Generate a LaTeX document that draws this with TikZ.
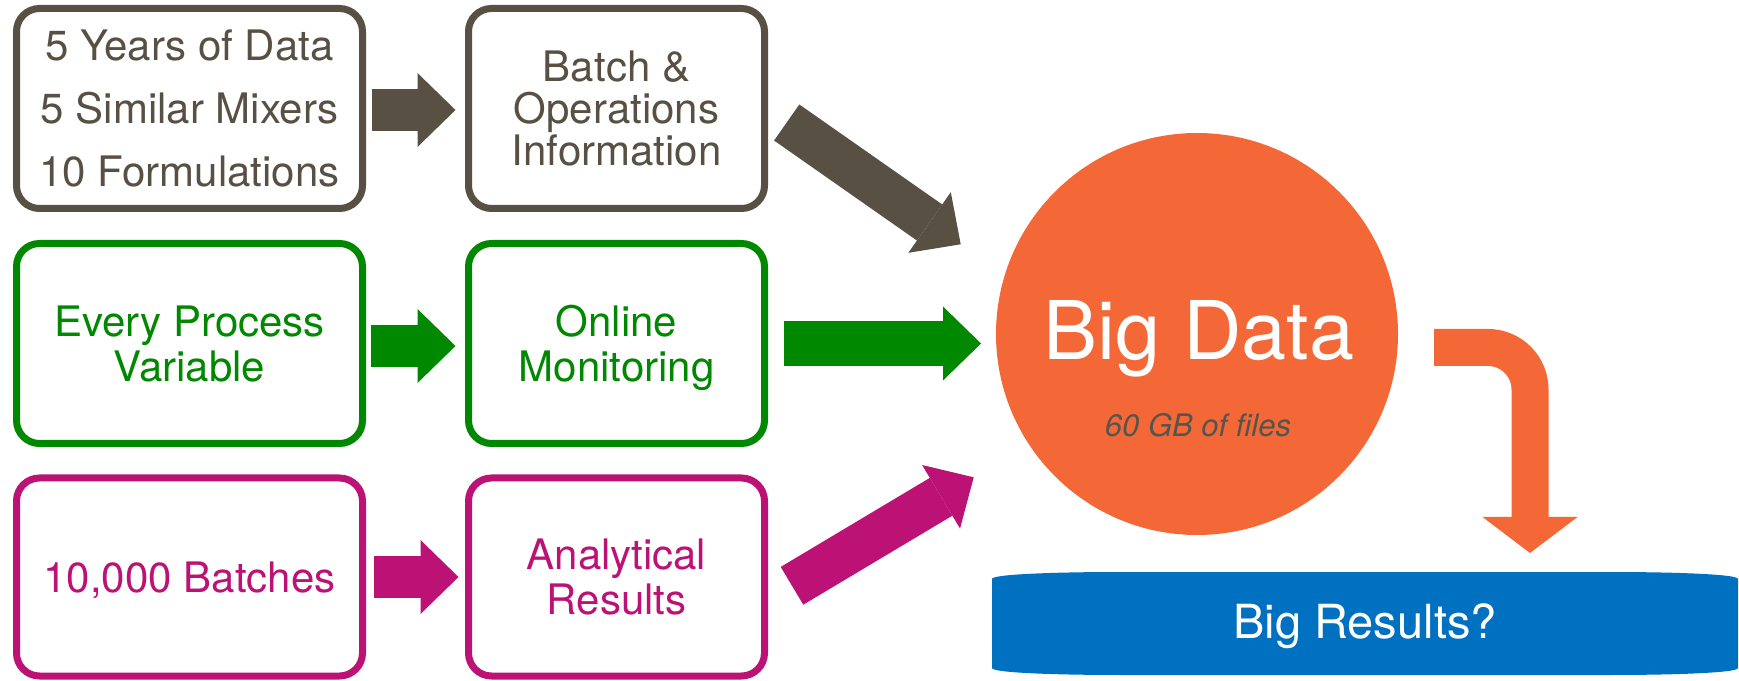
\documentclass[tikz,border=0pt]{standalone}
\usepackage{fontspec}
\setmainfont{TeX Gyre Heros}
\usetikzlibrary{arrows.meta,calc}
\definecolor{cgray}{RGB}{87,80,67}
\definecolor{cgreen}{RGB}{0,137,0}
\definecolor{cpink}{RGB}{188,18,118}
\definecolor{corange}{RGB}{243,104,54}
\definecolor{cblue}{RGB}{0,112,192}
\definecolor{ctgray}{RGB}{85,85,80}
\begin{document}
\begin{tikzpicture}[x=1pt,y=1pt,
  box/.style={draw=#1, text=#1, line width=7pt, rounded corners=23pt, align=center,
    text depth=0pt, inner sep=0pt, fill=white, minimum height=200pt},
  colA/.style={minimum width=346pt},
  colB/.style={minimum width=296pt},
  barrow/.style={draw=#1, line width=42pt, -{Triangle[length=38pt, width=74pt, line width=0pt]}},
  lbl/.style={anchor=base, inner sep=0pt}
]
\useasboundingbox (0,0) rectangle (1739,680);

% boxes
\node[box=cgray, colA, font=\fontsize{42}{63}\selectfont] (b11) at (189.5,571.5)
  {5 Years of Data\\5 Similar Mixers\\10 Formulations};
\node[box=cgray, colB, font=\fontsize{42}{42}\selectfont] (b12) at (616.5,571.5)
  {Batch \&\\Operations\\Information};
\node[box=cgreen, colA, font=\fontsize{42}{45}\selectfont] (b21) at (189.5,336.5)
  {Every Process\\Variable};
\node[box=cgreen, colB, font=\fontsize{42}{45}\selectfont] (b22) at (616.5,336.5)
  {Online\\Monitoring};
\node[box=cpink, colA, minimum height=198pt, font=\fontsize{42}{45}\selectfont] (b31) at (189.5,103)
  {10,000 Batches};
\node[box=cpink, colB, minimum height=198pt, font=\fontsize{42}{45}\selectfont] (b32) at (616.5,103)
  {Analytical\\Results};

% small arrows
\draw[barrow=cgray] ([xshift=5.5pt,yshift=-1.5pt]b11.east) -- ([xshift=-9.5pt,yshift=-1.5pt]b12.west);
\draw[barrow=cgreen] ([xshift=4.5pt,yshift=-2.5pt]b21.east) -- ([xshift=-9.5pt,yshift=-2.5pt]b22.west);
\draw[barrow=cpink] ([xshift=7.5pt]b31.east) -- ([xshift=-6.5pt]b32.west);

% big data circle
\node[circle, fill=corange, minimum size=402pt, inner sep=0pt] (bd) at (1197,346) {};
\node[lbl, text=white, font=\fontsize{81}{81}\selectfont] (bdt) at (1199,320) {Big Data};
\node[lbl, text=ctgray, font=\fontsize{31}{31}\selectfont\itshape] (gb) at (1198,243) {60 GB of files};

% big arrows into circle
\coordinate (gs) at (786.7,557.5);
\coordinate (ge) at (960.7,435.7);
\coordinate (ns) at (784,336.5);
\coordinate (ne) at (981,336.5);
\coordinate (ps) at (792,94.2);
\coordinate (pe) at (973.7,202.7);
\draw[barrow=cgray, line width=44pt] (gs) -- (ge);
\draw[barrow=cgreen, line width=45pt] (ns) -- (ne);
\draw[barrow=cpink, line width=44pt] (ps) -- (pe);

% bent orange arrow
\coordinate (os) at (1434,332.5);
\coordinate (oe) at (1530,127);
\draw[draw=corange, line width=37pt, rounded corners=42pt,
  -{Triangle[length=36pt, width=95pt, line width=0pt]}] (os) -| (oe);

% big results bar
\fill[cblue] (992,12) -- (992,101) .. controls (992,106) and (1060,108) .. (1120,108)
  -- (1610,108) .. controls (1670,108) and (1738,106) .. (1738,101)
  -- (1738,12) .. controls (1738,7) and (1670,5) .. (1610,5)
  -- (1120,5) .. controls (1060,5) and (992,7) .. (992,12) -- cycle;
\node[lbl, text=white, font=\fontsize{47}{47}\selectfont] (br) at (1365,42) {Big Results?};
\end{tikzpicture}
\end{document}
